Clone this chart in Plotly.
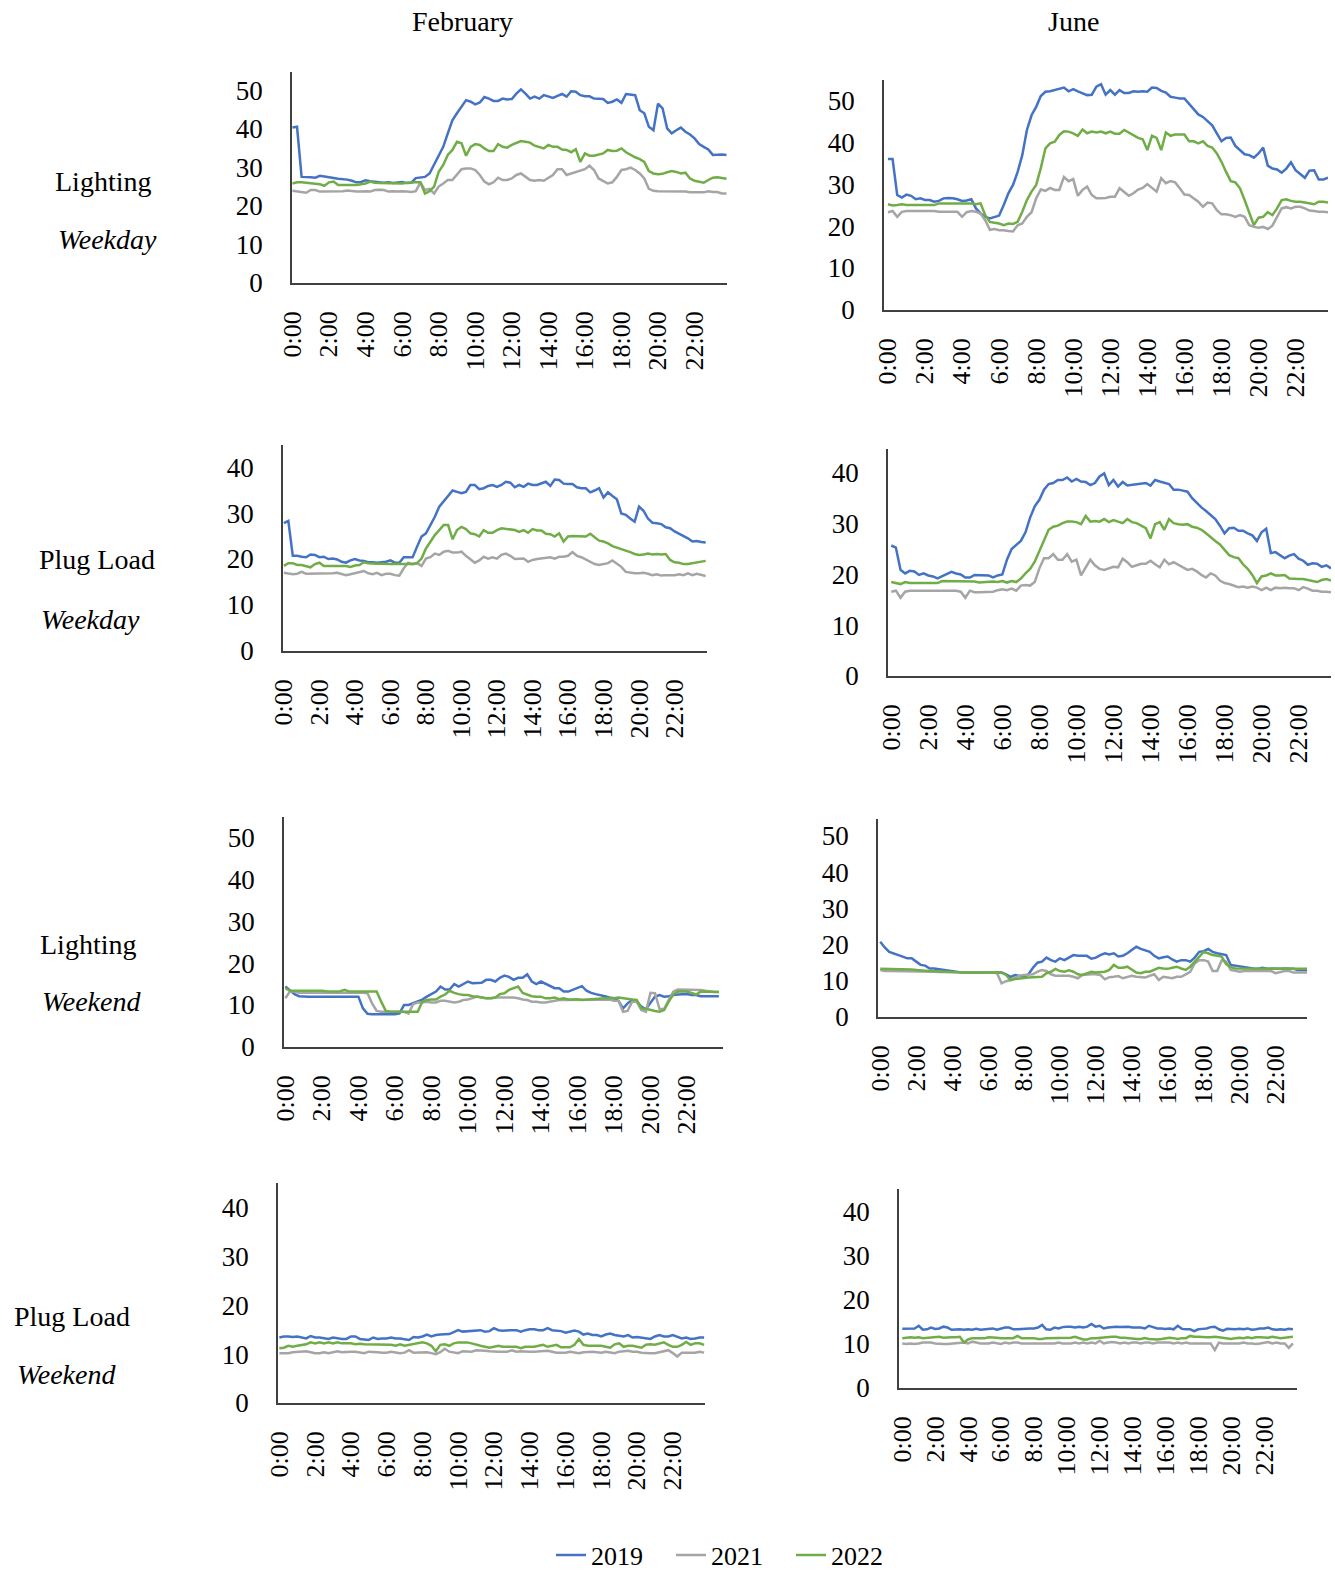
import plotly.graph_objects as go

# ---------------- DATA (15-min intervals, 96 points per series) ----------------
time_labels = ["0:00", "2:00", "4:00", "6:00", "8:00", "10:00", "12:00",
               "14:00", "16:00", "18:00", "20:00", "22:00"]
series_names = ["2019", "2021", "2022"]

# February - Lighting - Weekday
feb_light_wd_2019 = [40.3, 40.5, 27.5, 27.5, 27.4, 27.3, 27.8, 27.6, 27.3, 27.2, 27.0, 26.9, 26.8, 26.5, 26.1, 26.2,
                     26.6, 26.4, 26.2, 26.1, 26.0, 26.1, 25.9, 26.1, 26.2, 25.9, 26.0, 27.2, 27.3, 27.5, 28.4, 30.6,
                     32.7, 35.3, 38.8, 42.2, 44.0, 45.7, 47.4, 47.0, 46.3, 46.8, 48.2, 47.8, 47.2, 47.2, 47.8, 47.6,
                     47.7, 49.1, 50.2, 49.1, 47.8, 48.3, 47.8, 48.7, 48.3, 48.0, 48.5, 49.0, 48.3, 49.7, 49.6, 48.7,
                     48.4, 48.4, 47.8, 47.8, 47.7, 46.7, 47.0, 47.6, 46.7, 49.0, 48.9, 48.7, 44.8, 44.0, 40.5, 39.6,
                     46.5, 45.3, 40.1, 38.8, 39.6, 40.3, 39.2, 38.5, 37.5, 36.0, 35.3, 34.6, 33.2, 33.3, 33.3, 33.2]
feb_light_wd_2021 = [23.9, 23.7, 23.5, 23.4, 24.1, 24.1, 23.7, 23.7, 23.7, 23.7, 23.7, 23.8, 24.0, 23.8, 23.7, 23.7,
                     23.8, 23.7, 24.1, 24.2, 24.1, 23.7, 23.8, 23.7, 23.8, 23.7, 23.6, 23.8, 26.1, 24.1, 24.4, 23.2,
                     25.0, 25.8, 26.7, 26.7, 28.0, 29.5, 29.7, 29.7, 29.3, 28.0, 26.3, 25.6, 26.1, 27.3, 26.7, 26.7,
                     27.1, 28.0, 28.4, 27.5, 26.7, 26.5, 26.7, 26.5, 27.3, 28.0, 29.5, 29.5, 28.0, 28.4, 28.8, 29.3,
                     29.5, 30.4, 29.3, 27.1, 26.4, 25.8, 26.1, 27.5, 29.3, 29.5, 29.9, 29.3, 28.4, 27.1, 24.4, 23.9,
                     23.8, 23.8, 23.8, 23.8, 23.7, 23.7, 23.7, 23.5, 23.5, 23.5, 23.5, 23.8, 23.6, 23.6, 23.2, 23.2]
feb_light_wd_2022 = [25.8, 26.1, 26.1, 26.0, 25.8, 25.8, 25.6, 25.2, 26.1, 26.3, 25.4, 25.4, 25.4, 25.5, 25.4, 25.6,
                     25.8, 26.3, 26.0, 25.9, 25.9, 25.8, 25.9, 25.9, 25.8, 26.0, 26.1, 26.1, 26.1, 23.2, 23.8, 25.0,
                     28.8, 30.6, 33.2, 34.5, 36.6, 36.2, 33.0, 35.3, 36.0, 35.8, 34.9, 34.2, 34.2, 36.0, 35.3, 35.1,
                     35.8, 36.2, 36.8, 36.6, 36.4, 35.6, 35.3, 34.9, 35.8, 35.3, 35.3, 34.6, 34.5, 33.9, 34.7, 31.4,
                     33.6, 33.0, 33.0, 33.3, 33.6, 34.5, 34.2, 34.3, 34.9, 33.9, 33.2, 32.6, 32.1, 31.4, 29.0, 28.4,
                     28.2, 28.3, 28.7, 29.0, 28.8, 28.4, 28.6, 27.1, 26.5, 26.3, 26.0, 26.7, 27.3, 27.4, 27.1, 27.0]

# June - Lighting - Weekday
jun_light_wd_2019 = [36.0, 36.0, 27.4, 26.8, 27.5, 27.2, 26.4, 26.6, 26.2, 26.2, 25.8, 26.0, 26.6, 26.7, 26.6, 26.4,
                     26.0, 26.1, 26.4, 24.2, 23.0, 22.2, 21.8, 22.2, 22.5, 25.0, 27.8, 29.8, 32.9, 36.9, 42.9, 46.4,
                     48.4, 51.0, 52.0, 52.1, 52.4, 52.6, 53.0, 52.1, 52.6, 52.1, 51.7, 51.2, 51.3, 53.2, 53.8, 51.3,
                     52.4, 51.3, 52.4, 51.7, 51.7, 52.1, 52.0, 52.1, 52.0, 53.0, 52.9, 52.2, 51.8, 50.8, 50.6, 50.4,
                     50.4, 49.2, 48.0, 46.6, 46.0, 45.0, 44.0, 42.1, 40.2, 41.0, 41.1, 39.1, 38.1, 37.1, 36.9, 36.3,
                     37.3, 38.7, 34.4, 33.7, 33.5, 32.7, 33.7, 35.2, 33.3, 32.4, 31.5, 33.2, 33.3, 31.1, 31.1, 31.5]
jun_light_wd_2021 = [23.3, 23.6, 22.2, 23.4, 23.6, 23.6, 23.6, 23.6, 23.6, 23.6, 23.6, 23.4, 23.4, 23.4, 23.4, 23.4,
                     22.2, 23.3, 23.6, 23.4, 23.0, 21.4, 19.1, 19.3, 19.0, 19.0, 18.8, 18.7, 20.2, 20.6, 22.2, 23.3,
                     26.6, 28.7, 28.4, 29.1, 28.6, 28.6, 31.7, 30.7, 31.2, 27.2, 28.6, 29.4, 27.4, 26.6, 26.6, 26.7,
                     27.0, 27.0, 29.0, 28.0, 27.2, 27.8, 28.7, 29.1, 30.0, 29.1, 28.2, 31.4, 30.2, 30.7, 30.4, 29.0,
                     27.5, 27.4, 26.6, 25.8, 24.6, 25.6, 25.4, 23.8, 22.8, 22.8, 22.6, 22.2, 22.6, 22.2, 20.2, 19.8,
                     19.6, 19.8, 19.3, 20.1, 22.2, 24.2, 24.5, 24.2, 24.6, 24.6, 24.2, 23.7, 23.6, 23.4, 23.4, 23.3]
jun_light_wd_2022 = [25.2, 24.9, 25.0, 25.2, 25.0, 25.0, 25.0, 25.0, 25.0, 25.0, 25.0, 25.4, 25.4, 25.4, 25.4, 25.4,
                     25.4, 25.4, 25.4, 25.2, 25.4, 22.6, 21.0, 20.8, 20.6, 20.2, 20.6, 20.5, 21.0, 23.4, 26.2, 28.2,
                     29.8, 33.8, 38.5, 39.7, 40.1, 41.7, 42.6, 42.5, 42.1, 41.5, 43.0, 42.1, 42.5, 42.3, 42.5, 42.1,
                     42.5, 42.0, 42.0, 42.9, 42.3, 41.8, 41.0, 40.7, 38.1, 41.5, 41.0, 38.1, 42.3, 41.5, 41.8, 41.8,
                     41.8, 40.2, 40.2, 39.7, 40.2, 39.1, 38.7, 37.3, 35.3, 32.9, 30.7, 30.4, 29.0, 26.2, 23.0, 20.2,
                     22.0, 22.2, 23.3, 22.6, 24.2, 26.2, 26.4, 26.0, 25.8, 25.8, 25.6, 25.4, 25.2, 25.8, 25.8, 25.6]

# February - Plug Load - Weekday
feb_plug_wd_2019 = [27.8, 28.3, 20.7, 20.7, 20.5, 20.4, 21.0, 20.9, 20.4, 20.5, 20.0, 20.1, 19.9, 19.4, 19.2, 19.7,
                    20.0, 19.7, 19.6, 19.3, 19.3, 19.2, 19.3, 19.4, 19.7, 19.2, 19.2, 20.4, 20.4, 20.4, 22.7, 24.9,
                    25.6, 27.4, 29.2, 31.4, 32.5, 33.7, 34.9, 34.6, 34.3, 34.6, 36.1, 36.1, 35.2, 35.4, 35.9, 36.1,
                    35.7, 36.1, 36.8, 36.6, 35.6, 36.1, 35.7, 36.4, 36.1, 36.1, 36.4, 36.8, 35.9, 37.3, 37.2, 36.4,
                    36.3, 36.3, 35.6, 35.4, 35.4, 34.5, 34.9, 35.4, 33.4, 34.5, 33.7, 33.0, 29.9, 29.6, 28.8, 28.1,
                    31.4, 30.5, 28.8, 27.9, 27.8, 27.6, 26.9, 26.7, 26.0, 25.5, 25.1, 24.5, 23.8, 23.9, 23.7, 23.6]
feb_plug_wd_2021 = [17.0, 16.9, 16.7, 16.8, 17.2, 16.8, 16.8, 16.8, 16.8, 16.8, 16.8, 16.9, 17.0, 16.8, 16.5, 16.7,
                    16.9, 17.2, 17.4, 16.9, 16.7, 17.0, 16.5, 16.8, 16.8, 16.5, 16.4, 18.0, 19.2, 18.9, 19.1, 18.5,
                    20.1, 20.4, 21.2, 20.9, 21.6, 21.8, 21.4, 21.4, 21.6, 20.7, 19.9, 19.2, 19.7, 20.5, 20.1, 20.4,
                    20.1, 20.9, 21.2, 20.7, 20.0, 20.1, 20.1, 19.4, 19.8, 20.0, 20.1, 20.3, 20.4, 20.1, 20.5, 20.5,
                    20.7, 21.5, 20.7, 20.4, 19.9, 19.4, 18.9, 18.7, 18.9, 19.1, 19.7, 18.9, 18.3, 17.2, 17.0, 16.9,
                    16.9, 17.0, 16.8, 16.5, 16.7, 16.4, 16.5, 16.5, 16.5, 16.7, 16.5, 16.9, 16.5, 16.8, 16.5, 16.3]
feb_plug_wd_2022 = [18.5, 19.1, 19.1, 18.7, 18.7, 18.5, 18.2, 18.9, 19.2, 18.5, 18.5, 18.5, 18.5, 18.5, 18.5, 18.3,
                    18.6, 18.7, 19.3, 19.1, 19.0, 19.0, 19.0, 18.9, 18.9, 18.9, 18.9, 18.9, 18.9, 18.9, 19.1, 20.1,
                    22.3, 23.8, 25.2, 26.3, 27.4, 27.4, 24.3, 26.3, 27.0, 26.5, 25.6, 25.4, 24.9, 26.3, 25.7, 25.7,
                    26.3, 26.7, 26.6, 26.5, 26.3, 25.9, 26.3, 25.7, 26.5, 26.2, 26.2, 25.5, 25.4, 24.9, 25.6, 23.8,
                    24.9, 25.0, 25.0, 24.9, 24.9, 25.5, 24.7, 24.0, 23.8, 23.4, 22.8, 22.5, 22.1, 21.8, 21.5, 21.1,
                    20.9, 21.0, 21.2, 21.0, 21.1, 21.0, 21.1, 19.8, 19.3, 19.2, 18.9, 18.9, 19.1, 19.3, 19.4, 19.6]

# June - Plug Load - Weekday
jun_plug_wd_2019 = [25.7, 25.3, 20.9, 20.2, 20.7, 20.6, 19.9, 20.2, 19.8, 19.6, 19.2, 19.6, 20.0, 20.5, 20.2, 20.0,
                    19.4, 19.4, 19.9, 19.9, 19.9, 19.8, 19.4, 19.8, 20.0, 22.9, 25.0, 25.9, 26.6, 28.3, 31.2, 33.4,
                    34.7, 36.7, 37.8, 38.0, 38.6, 38.6, 39.1, 38.3, 38.8, 38.3, 38.2, 37.6, 38.0, 39.3, 39.9, 37.6,
                    38.6, 37.3, 38.2, 37.5, 37.6, 37.8, 37.8, 38.0, 37.5, 38.6, 38.3, 38.0, 37.8, 36.7, 36.7, 36.5,
                    36.3, 35.0, 34.0, 33.2, 32.5, 31.7, 30.9, 29.6, 28.1, 29.1, 29.2, 28.6, 28.6, 28.1, 27.7, 26.6,
                    28.3, 29.0, 24.2, 24.4, 23.8, 23.2, 23.7, 24.0, 23.1, 22.7, 21.9, 22.2, 22.1, 21.5, 21.8, 21.2]
jun_plug_wd_2021 = [16.6, 16.8, 15.4, 16.6, 16.8, 16.8, 16.8, 16.8, 16.8, 16.8, 16.8, 16.8, 16.8, 16.8, 16.8, 16.6,
                    15.4, 16.8, 16.5, 16.5, 16.5, 16.5, 16.6, 16.9, 17.1, 16.9, 17.2, 16.8, 17.8, 17.9, 17.8, 18.5,
                    21.2, 23.2, 23.2, 24.0, 22.9, 22.9, 24.0, 22.5, 22.9, 19.8, 21.5, 22.9, 21.8, 21.1, 20.9, 21.2,
                    21.5, 21.4, 23.1, 22.4, 21.5, 21.8, 22.1, 22.1, 22.7, 22.0, 21.4, 22.9, 22.0, 22.4, 21.9, 21.4,
                    20.9, 21.1, 20.6, 19.9, 19.4, 20.2, 19.8, 18.8, 18.3, 18.1, 17.8, 17.5, 17.6, 17.4, 17.6, 17.4,
                    16.9, 17.4, 16.9, 17.4, 17.3, 17.4, 17.3, 17.3, 16.9, 17.5, 17.2, 16.8, 16.8, 16.6, 16.6, 16.5]
jun_plug_wd_2022 = [18.5, 18.3, 18.1, 18.5, 18.3, 18.3, 18.3, 18.3, 18.3, 18.3, 18.3, 18.7, 18.7, 18.6, 18.6, 18.6,
                    18.6, 18.6, 18.6, 18.4, 18.5, 18.6, 18.6, 18.5, 18.7, 18.4, 18.7, 18.5, 19.2, 20.2, 21.1, 22.5,
                    24.5, 26.8, 28.8, 29.4, 29.6, 30.1, 30.4, 30.4, 30.3, 29.9, 31.5, 30.4, 30.5, 30.4, 30.9, 30.3,
                    30.7, 30.4, 30.1, 30.9, 30.3, 30.1, 29.6, 29.1, 27.1, 29.9, 30.3, 28.8, 30.9, 30.1, 29.9, 29.8,
                    29.9, 29.4, 29.2, 28.8, 28.1, 27.3, 26.6, 25.9, 24.8, 23.8, 23.4, 23.2, 22.0, 21.1, 19.9, 18.3,
                    19.6, 19.8, 20.2, 19.8, 19.8, 19.9, 19.2, 19.1, 19.1, 19.1, 18.9, 18.7, 18.5, 18.9, 19.1, 18.8]

# February - Lighting - Weekend
feb_light_we_2019 = [14.4, 13.6, 12.6, 12.1, 12.0, 12.0, 12.0, 12.0, 12.0, 12.0, 12.0, 12.1, 12.1, 12.1, 12.0, 12.0,
                     12.0, 9.2, 7.9, 7.8, 7.8, 7.8, 7.8, 7.8, 7.8, 8.0, 10.0, 10.0, 10.4, 10.8, 11.3, 12.0,
                     12.6, 13.2, 14.4, 13.7, 13.7, 15.0, 14.4, 15.0, 15.6, 15.2, 15.2, 15.3, 16.0, 16.0, 15.6, 16.5,
                     17.0, 16.7, 16.0, 16.5, 16.5, 17.3, 15.6, 15.0, 15.6, 15.0, 14.4, 14.0, 14.0, 13.2, 13.2, 13.6,
                     14.0, 14.5, 13.4, 12.9, 12.6, 12.4, 12.1, 11.8, 11.6, 11.0, 9.2, 10.4, 11.2, 10.8, 9.6, 9.0,
                     10.6, 12.0, 12.4, 12.0, 12.1, 12.4, 12.5, 12.6, 12.6, 12.4, 12.4, 12.1, 12.1, 12.1, 12.1, 12.1]
feb_light_we_2021 = [11.6, 13.2, 13.2, 12.9, 12.9, 12.9, 13.0, 12.9, 12.9, 12.9, 13.0, 12.9, 12.9, 13.0, 12.9, 12.9,
                     12.9, 12.9, 12.8, 10.4, 8.6, 8.4, 8.4, 8.4, 8.4, 8.4, 8.4, 8.0, 10.2, 10.6, 10.6, 10.8,
                     10.6, 10.6, 11.0, 11.0, 10.8, 10.6, 10.8, 11.2, 11.3, 11.6, 12.0, 11.8, 11.6, 11.6, 11.8, 11.8,
                     11.8, 11.8, 11.8, 11.6, 11.3, 11.2, 10.8, 10.8, 10.6, 10.6, 10.8, 11.0, 11.2, 11.2, 11.2, 11.2,
                     11.2, 11.2, 11.2, 11.2, 11.2, 11.2, 11.2, 11.3, 11.0, 11.0, 8.4, 8.6, 10.8, 10.8, 8.8, 8.4,
                     12.9, 12.8, 9.0, 9.1, 11.2, 13.2, 13.7, 13.7, 13.6, 13.7, 13.7, 13.6, 13.4, 13.2, 13.1, 13.1]
feb_light_we_2022 = [14.0, 13.4, 13.4, 13.4, 13.4, 13.4, 13.5, 13.4, 13.4, 13.3, 13.2, 13.2, 13.3, 13.6, 13.2, 13.2,
                     13.2, 13.2, 13.2, 13.2, 13.2, 10.8, 8.6, 8.4, 8.4, 8.4, 8.4, 8.4, 8.4, 8.4, 10.8, 11.2,
                     11.3, 11.3, 12.0, 12.5, 13.4, 12.9, 12.6, 12.4, 12.4, 12.1, 12.0, 11.8, 11.6, 11.6, 11.8, 12.6,
                     12.8, 13.6, 14.0, 14.4, 12.9, 12.5, 12.1, 12.0, 12.0, 11.6, 11.6, 11.8, 11.4, 11.6, 11.3, 11.3,
                     11.4, 11.2, 11.3, 11.4, 11.5, 11.6, 11.6, 11.6, 11.6, 11.8, 11.6, 11.4, 11.3, 11.2, 9.2, 9.1,
                     8.8, 8.6, 8.4, 8.8, 10.8, 12.5, 13.2, 13.2, 13.2, 12.9, 12.5, 13.2, 13.2, 13.2, 13.1, 13.1]

# June - Lighting - Weekend
jun_light_we_2019 = [20.8, 19.2, 18.0, 17.6, 17.3, 16.7, 16.2, 16.2, 15.3, 14.4, 14.2, 13.4, 13.4, 13.2, 13.0, 12.7,
                     12.5, 12.3, 12.3, 12.2, 12.2, 12.2, 12.2, 12.2, 12.2, 12.2, 12.2, 12.3, 11.8, 11.1, 11.6, 11.3,
                     11.1, 11.8, 13.6, 15.0, 15.3, 16.4, 15.7, 15.3, 16.2, 15.7, 16.4, 17.1, 16.9, 16.9, 16.9, 16.1,
                     16.4, 17.1, 17.6, 17.3, 17.6, 16.7, 16.9, 17.6, 18.5, 19.4, 18.8, 18.5, 18.0, 16.9, 16.2, 16.5,
                     16.7, 15.9, 15.3, 15.7, 15.7, 15.3, 16.4, 18.0, 18.2, 18.8, 18.0, 17.6, 17.3, 17.1, 14.4, 14.2,
                     13.9, 13.6, 13.4, 13.4, 13.3, 13.6, 13.4, 13.3, 13.3, 13.3, 13.4, 13.4, 13.3, 13.0, 13.0, 12.9]
jun_light_we_2021 = [13.0, 12.7, 12.7, 12.7, 12.7, 12.7, 12.7, 12.7, 12.7, 12.6, 12.6, 12.5, 12.5, 12.4, 12.4, 12.4,
                     12.3, 12.3, 12.3, 12.3, 12.3, 12.3, 12.3, 12.3, 12.3, 12.3, 12.1, 9.3, 9.9, 10.2, 10.9, 11.4,
                     11.6, 11.6, 11.8, 12.5, 13.0, 12.7, 11.8, 11.4, 11.4, 11.6, 11.4, 11.1, 10.7, 11.6, 11.8, 11.8,
                     11.8, 11.6, 10.4, 11.0, 11.1, 11.3, 10.7, 11.1, 11.4, 11.1, 11.1, 10.9, 11.4, 11.8, 10.2, 11.1,
                     10.9, 10.7, 11.1, 11.1, 11.8, 12.5, 14.8, 15.7, 15.7, 15.3, 12.7, 12.7, 15.6, 15.3, 13.0, 12.7,
                     12.5, 12.7, 12.7, 12.7, 12.7, 12.7, 12.7, 12.7, 12.1, 12.5, 12.7, 12.7, 12.3, 12.3, 12.3, 12.3]
jun_light_we_2022 = [13.3, 13.3, 13.3, 13.3, 13.2, 13.2, 13.2, 13.1, 13.0, 13.0, 12.8, 12.7, 12.7, 12.6, 12.6, 12.5,
                     12.4, 12.3, 12.3, 12.3, 12.3, 12.3, 12.3, 12.3, 12.3, 12.3, 12.3, 12.3, 11.6, 10.2, 10.5, 10.7,
                     10.7, 10.9, 11.0, 11.1, 11.1, 12.1, 12.5, 13.3, 12.7, 12.5, 12.9, 12.5, 11.8, 11.6, 12.1, 12.5,
                     12.3, 12.3, 12.5, 13.0, 14.4, 13.6, 13.6, 13.9, 13.0, 12.3, 12.1, 12.5, 12.5, 13.0, 13.6, 13.4,
                     13.3, 13.6, 13.9, 13.4, 13.0, 13.9, 15.3, 16.9, 18.0, 17.6, 17.1, 16.9, 16.7, 14.6, 13.8, 13.4,
                     13.4, 13.4, 13.3, 13.3, 13.3, 13.3, 13.4, 13.4, 13.3, 13.4, 13.4, 13.3, 13.3, 13.4, 13.4, 13.3]

# February - Plug Load - Weekend
feb_plug_we_2019 = [13.4, 13.6, 13.6, 13.5, 13.6, 13.4, 13.2, 13.7, 13.4, 13.4, 13.2, 13.1, 13.4, 13.2, 13.1, 13.1,
                    13.6, 13.6, 13.1, 13.0, 12.9, 13.4, 13.1, 13.2, 13.2, 13.4, 13.2, 13.2, 13.0, 12.9, 13.5, 13.4,
                    13.6, 14.0, 13.6, 13.9, 14.0, 14.0, 14.1, 14.5, 14.9, 14.6, 14.7, 14.8, 14.9, 14.9, 14.6, 14.7,
                    15.3, 14.9, 14.8, 14.9, 14.9, 14.9, 14.6, 14.9, 15.1, 15.1, 14.9, 14.9, 15.3, 14.9, 14.8, 14.7,
                    14.4, 14.6, 14.8, 14.6, 14.0, 14.2, 13.9, 13.9, 13.6, 14.0, 14.2, 13.9, 13.7, 13.6, 13.9, 13.4,
                    13.5, 13.4, 13.2, 13.1, 13.6, 13.9, 13.6, 13.6, 13.9, 13.6, 13.2, 13.4, 13.1, 13.2, 13.4, 13.4]
feb_plug_we_2021 = [10.2, 10.2, 10.2, 10.4, 10.5, 10.5, 10.6, 10.4, 10.2, 10.2, 10.4, 10.2, 10.4, 10.6, 10.4, 10.5,
                    10.5, 10.5, 10.3, 10.2, 10.5, 10.5, 10.4, 10.3, 10.3, 10.5, 10.3, 10.2, 10.3, 10.8, 10.3, 10.3,
                    10.3, 10.4, 10.2, 10.0, 10.4, 11.1, 10.5, 10.3, 10.2, 10.6, 10.6, 10.5, 10.8, 10.8, 10.7, 10.6,
                    10.5, 10.5, 10.5, 10.5, 10.8, 10.5, 10.6, 10.5, 10.5, 10.5, 10.6, 10.6, 10.7, 10.5, 10.3, 10.3,
                    10.3, 10.5, 10.4, 10.2, 10.4, 10.5, 10.5, 10.4, 10.3, 10.5, 10.3, 10.2, 10.5, 10.6, 10.7, 10.5,
                    10.5, 10.3, 10.2, 10.2, 10.2, 10.4, 10.5, 10.8, 10.2, 9.5, 10.3, 10.3, 10.2, 10.3, 10.5, 10.3]
feb_plug_we_2022 = [11.2, 11.3, 11.7, 11.5, 11.7, 11.9, 12.0, 12.4, 12.2, 12.4, 12.2, 12.4, 12.2, 12.4, 12.2, 12.2,
                    12.2, 12.0, 12.1, 12.0, 12.0, 11.9, 11.9, 11.9, 12.0, 11.9, 11.7, 12.0, 11.7, 11.9, 12.0, 12.2,
                    12.4, 12.2, 11.7, 10.6, 11.9, 12.0, 11.7, 12.2, 12.4, 12.4, 12.4, 12.2, 11.9, 11.7, 11.5, 11.3,
                    11.5, 11.7, 11.5, 11.5, 11.5, 11.5, 11.2, 11.5, 11.5, 11.5, 11.7, 11.9, 11.5, 11.7, 11.9, 11.4,
                    11.4, 11.4, 11.9, 13.1, 11.9, 11.7, 11.7, 11.7, 11.7, 11.5, 11.3, 12.0, 12.2, 11.5, 11.7, 11.7,
                    11.5, 11.3, 11.9, 12.0, 11.9, 12.1, 12.4, 11.9, 11.5, 11.5, 11.9, 12.5, 11.9, 12.2, 12.2, 11.9]

# June - Plug Load - Weekend
jun_plug_we_2019 = [13.4, 13.4, 13.4, 13.5, 14.1, 13.2, 13.3, 13.7, 13.4, 13.5, 13.9, 13.7, 13.2, 13.3, 13.3, 13.2,
                    13.3, 13.2, 13.4, 13.2, 13.3, 13.3, 13.5, 13.2, 13.5, 13.7, 13.7, 13.3, 13.3, 13.4, 13.5, 13.5,
                    13.5, 13.7, 14.3, 13.3, 13.2, 13.7, 13.5, 13.8, 13.9, 13.9, 13.7, 13.9, 13.7, 13.9, 14.5, 13.9,
                    14.1, 13.5, 13.7, 13.8, 13.9, 13.8, 13.8, 13.9, 13.7, 13.7, 13.7, 13.5, 14.1, 13.8, 13.5, 13.5,
                    13.4, 13.5, 13.3, 14.1, 13.4, 13.3, 13.3, 12.9, 13.3, 13.4, 13.5, 13.8, 13.9, 13.3, 13.0, 13.4,
                    13.3, 13.3, 13.4, 13.3, 13.5, 13.2, 13.3, 13.5, 13.5, 13.7, 13.3, 13.2, 13.3, 13.2, 13.4, 13.3]
jun_plug_we_2021 = [10.1, 10.0, 10.1, 10.0, 10.1, 10.3, 10.3, 10.3, 10.1, 10.0, 10.0, 10.0, 10.1, 10.1, 10.3, 10.3,
                    10.1, 10.5, 10.3, 10.1, 10.1, 10.1, 10.3, 10.1, 10.0, 10.3, 10.1, 10.3, 10.3, 10.1, 10.1, 10.1,
                    10.0, 10.1, 10.1, 10.1, 10.0, 10.1, 10.3, 10.1, 10.1, 10.1, 10.3, 10.1, 10.3, 10.1, 10.3, 10.1,
                    10.7, 10.1, 10.3, 10.4, 10.3, 10.1, 10.3, 10.1, 10.3, 10.3, 10.1, 10.3, 10.3, 10.1, 10.3, 10.3,
                    10.3, 10.3, 10.1, 10.3, 10.1, 10.3, 10.1, 10.1, 10.1, 10.1, 10.0, 10.1, 8.6, 10.3, 10.1, 10.1,
                    10.1, 10.0, 10.1, 10.3, 10.1, 10.1, 10.0, 10.1, 10.3, 10.4, 10.1, 10.3, 10.1, 10.1, 9.1, 10.1]
jun_plug_we_2022 = [11.3, 11.4, 11.5, 11.4, 11.5, 11.3, 11.4, 11.5, 11.5, 11.6, 11.4, 11.5, 11.5, 11.5, 11.6, 10.3,
                    11.0, 11.3, 11.3, 11.3, 11.3, 11.5, 11.5, 11.4, 11.3, 11.3, 11.3, 11.3, 11.8, 11.3, 11.3, 11.3,
                    11.3, 11.1, 11.1, 11.3, 11.3, 11.4, 11.3, 11.3, 11.3, 11.4, 11.6, 11.3, 11.0, 11.0, 11.3, 11.3,
                    11.4, 11.5, 11.6, 11.6, 11.6, 11.4, 11.4, 11.3, 11.1, 11.1, 11.1, 11.3, 11.1, 11.0, 11.0, 11.1,
                    11.3, 11.4, 11.3, 11.1, 11.3, 11.3, 11.8, 11.6, 11.6, 11.5, 11.5, 11.5, 11.6, 11.5, 11.4, 11.3,
                    11.1, 11.3, 11.4, 11.3, 11.5, 11.3, 11.5, 11.5, 11.4, 11.4, 11.6, 11.4, 11.3, 11.4, 11.5, 11.6]

# ---------------- FIGURE ----------------
W, H = 1335, 1570
FONT = "Times New Roman, Liberation Serif, serif"
COLORS = {"2019": "#4472C4", "2021": "#A5A5A5", "2022": "#70AD47"}

# panel layout: (data triple, x px [left, right], y px [top, bottom], y max, x range)
panels = [
    ((feb_light_wd_2019, feb_light_wd_2021, feb_light_wd_2022), (292, 727), (72, 283), 54.7, (-0.1, 95.1)),
    ((jun_light_wd_2019, jun_light_wd_2021, jun_light_wd_2022), (884, 1328), (80, 310), 54.8, (-0.85, 95.0)),
    ((feb_plug_wd_2019, feb_plug_wd_2021, feb_plug_wd_2022), (283, 707), (445, 651), 44.8, (-0.2, 95.3)),
    ((jun_plug_wd_2019, jun_plug_wd_2021, jun_plug_wd_2022), (888, 1331), (449, 676), 44.7, (-0.7, 95.0)),
    ((feb_light_we_2019, feb_light_we_2021, feb_light_we_2022), (284, 723), (817, 1047), 54.8, (-0.3, 95.9)),
    ((jun_light_we_2019, jun_light_we_2021, jun_light_we_2022), (878, 1307), (819, 1017), 54.7, (-0.5, 95.0)),
    ((feb_plug_we_2019, feb_plug_we_2021, feb_plug_we_2022), (278, 705), (1183, 1403), 45.0, (-0.3, 95.2)),
    ((jun_plug_we_2019, jun_plug_we_2021, jun_plug_we_2022), (899, 1297), (1189, 1388), 45.1, (-0.8, 96.0)),
]

x_idx = list(range(96))
tickvals_x = list(range(0, 96, 8))

fig = go.Figure()
layout_axes = {}
for i, (series, (xl, xr), (yt, yb), ymax, xrng) in enumerate(panels):
    n = "" if i == 0 else str(i + 1)
    for name, vals in zip(series_names, series):
        fig.add_trace(go.Scatter(
            x=x_idx, y=vals, mode="lines", name=name,
            line=dict(color=COLORS[name], width=2.5),
            xaxis="x" + n, yaxis="y" + n,
            showlegend=(i == 0), legendgroup=name,
        ))
    lighting = ymax > 50
    layout_axes["xaxis" + n] = dict(
        domain=[xl / W, xr / W], anchor="y" + n, range=list(xrng), automargin=False,
        showgrid=False, zeroline=False, showline=True, linecolor="#404040", linewidth=1.5,
        ticks="", tickmode="array", tickvals=tickvals_x, ticktext=time_labels,
        tickangle=-90, tickfont=dict(family=FONT, size=26, color="black"),
        ticklabelstandoff=16,
    )
    layout_axes["yaxis" + n] = dict(
        domain=[1 - yb / H, 1 - yt / H], anchor="x" + n, range=[0, ymax], automargin=False,
        showgrid=False, zeroline=False, showline=True, linecolor="#404040", linewidth=1.5,
        ticks="", tickmode="array",
        tickvals=[0, 10, 20, 30, 40, 50] if lighting else [0, 10, 20, 30, 40],
        tickfont=dict(family=FONT, size=27, color="black"),
        ticklabelstandoff=22,
    )

annotations = []
def add_text(txt, x, y, italic=False, size=28):
    annotations.append(dict(
        text=("<i>%s</i>" % txt) if italic else txt,
        x=x / W, y=1 - y / H, xref="paper", yref="paper",
        xanchor="center", yanchor="middle", showarrow=False,
        font=dict(family=FONT, size=size, color="black"),
    ))

add_text("February", 462, 22)
add_text("June", 1073, 22)
add_text("Lighting", 103, 182)
add_text("Weekday", 107, 240, italic=True)
add_text("Plug Load", 97, 560)
add_text("Weekday", 90, 619, italic=True)
add_text("Lighting", 88, 944)
add_text("Weekend", 91, 1001, italic=True)
add_text("Plug Load", 72, 1316)
add_text("Weekend", 66, 1374, italic=True)

fig.update_layout(
    width=W, height=H,
    margin=dict(l=0, r=0, t=0, b=0, pad=0, autoexpand=False),
    paper_bgcolor="white", plot_bgcolor="white",
    font=dict(family=FONT, color="black"),
    annotations=annotations,
    legend=dict(
        orientation="h", x=731 / W, y=1 - 1555 / H, xanchor="center", yanchor="middle",
        font=dict(family=FONT, size=26, color="black"),
        entrywidth=75, entrywidthmode="pixels",
        tracegroupgap=0, bgcolor="rgba(0,0,0,0)",
    ),
    **layout_axes,
)

fig.write_html(
    "out.html",
    config={"displayModeBar": False},
    post_script="document.body.style.margin='0';document.body.style.overflow='hidden';",
)
